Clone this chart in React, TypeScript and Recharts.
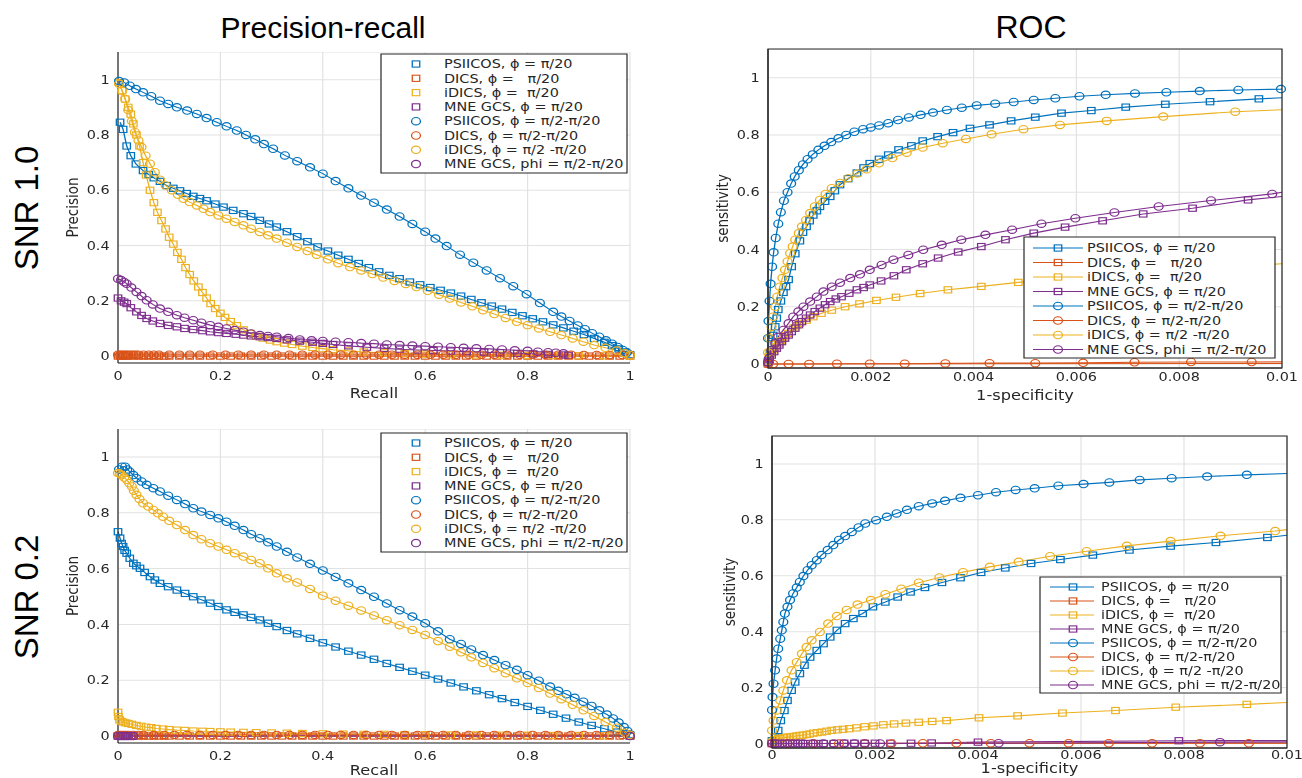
import React from 'react';
import { LineChart, Line, XAxis, YAxis, CartesianGrid } from 'recharts';

type Pt = [number, number];

// ---- Precision-recall, SNR 1.0 ----
const pr1PsiSq: Pt[] = [[0.004,0.846],[0.01,0.82],[0.017,0.76],[0.025,0.725],[0.035,0.695],[0.049,0.671],[0.06,0.657],[0.07,0.645],[0.082,0.632],[0.095,0.617],[0.108,0.607],[0.121,0.598],[0.134,0.588],[0.147,0.578],[0.16,0.57],[0.173,0.562],[0.19,0.55],[0.206,0.539],[0.225,0.527],[0.245,0.515],[0.26,0.505],[0.277,0.491],[0.295,0.478],[0.31,0.467],[0.33,0.45],[0.35,0.432],[0.37,0.414],[0.39,0.395],[0.41,0.38],[0.43,0.365],[0.45,0.35],[0.47,0.335],[0.49,0.32],[0.51,0.305],[0.53,0.292],[0.55,0.28],[0.57,0.268],[0.59,0.258],[0.61,0.248],[0.63,0.238],[0.65,0.228],[0.67,0.217],[0.69,0.205],[0.71,0.193],[0.73,0.181],[0.75,0.17],[0.77,0.158],[0.79,0.146],[0.81,0.135],[0.83,0.124],[0.85,0.113],[0.87,0.102],[0.89,0.09],[0.91,0.078],[0.93,0.064],[0.95,0.05],[0.965,0.038],[0.978,0.026],[0.99,0.015],[1,0.005]];
const pr1DicsSq: Pt[] = [[0,0],[0.005,0],[0.01,0],[0.015,0],[0.02,0],[0.03,0],[0.04,0],[0.05,0],[0.06,0],[0.07,0],[0.08,0],[0.09,0],[0.1,0],[0.12,0],[0.14,0],[0.16,0],[0.18,0],[0.2,0],[0.22,0],[0.24,0],[0.26,0],[0.28,0],[0.3,0],[0.32,0],[0.34,0],[0.36,0],[0.38,0],[0.4,0],[0.42,0],[0.44,0],[0.46,0],[0.48,0],[0.5,0],[0.52,0],[0.54,0],[0.56,0],[0.58,0],[0.6,0],[0.62,0],[0.64,0],[0.66,0],[0.68,0],[0.7,0],[0.72,0],[0.74,0],[0.76,0],[0.78,0],[0.8,0],[0.82,0],[0.84,0],[0.86,0],[0.88,0],[0.9,0],[0.92,0],[0.94,0],[0.96,0],[0.98,0],[1,0]];
const pr1IdicsSq: Pt[] = [[0.002,0.99],[0.008,0.96],[0.014,0.93],[0.02,0.9],[0.025,0.875],[0.03,0.84],[0.036,0.8],[0.042,0.76],[0.049,0.7],[0.055,0.655],[0.0625,0.6],[0.07,0.555],[0.077,0.52],[0.085,0.49],[0.093,0.46],[0.1,0.43],[0.108,0.405],[0.116,0.375],[0.124,0.35],[0.132,0.32],[0.14,0.295],[0.148,0.272],[0.157,0.25],[0.165,0.23],[0.173,0.21],[0.181,0.19],[0.19,0.172],[0.2,0.155],[0.209,0.14],[0.22,0.125],[0.232,0.11],[0.245,0.095],[0.258,0.082],[0.27,0.072],[0.283,0.065],[0.297,0.058],[0.31,0.052],[0.325,0.047],[0.34,0.042],[0.36,0.036],[0.38,0.031],[0.4,0.027],[0.42,0.023],[0.45,0.019],[0.48,0.015],[0.52,0.012],[0.56,0.009],[0.6,0.007],[0.65,0.005],[0.7,0.004],[0.75,0.003],[0.8,0.002],[0.85,0.002],[0.9,0.001],[0.95,0.001],[1,0]];
const pr1MneSq: Pt[] = [[0,0.21],[0.006,0.2],[0.012,0.195],[0.017,0.19],[0.025,0.175],[0.036,0.16],[0.046,0.147],[0.056,0.136],[0.068,0.127],[0.082,0.118],[0.098,0.111],[0.115,0.106],[0.13,0.1],[0.147,0.096],[0.165,0.092],[0.18,0.088],[0.196,0.085],[0.212,0.082],[0.23,0.079],[0.245,0.076],[0.26,0.073],[0.277,0.07],[0.293,0.067],[0.31,0.064],[0.33,0.059],[0.355,0.054],[0.38,0.05],[0.4,0.046],[0.42,0.042],[0.45,0.037],[0.486,0.032],[0.52,0.028],[0.55,0.025],[0.585,0.022],[0.616,0.02],[0.65,0.018],[0.681,0.016],[0.715,0.014],[0.746,0.012],[0.78,0.01],[0.811,0.008],[0.84,0.006],[0.87,0.004],[0.88,0.003]];
const pr1PsiCi: Pt[] = [[0.002,0.995],[0.012,0.99],[0.023,0.978],[0.035,0.966],[0.049,0.954],[0.065,0.94],[0.082,0.924],[0.098,0.912],[0.115,0.9],[0.135,0.888],[0.154,0.876],[0.173,0.861],[0.193,0.846],[0.212,0.831],[0.232,0.816],[0.25,0.8],[0.268,0.784],[0.285,0.767],[0.303,0.75],[0.326,0.726],[0.35,0.705],[0.375,0.683],[0.4,0.66],[0.425,0.633],[0.45,0.607],[0.475,0.581],[0.5,0.555],[0.525,0.53],[0.55,0.505],[0.575,0.478],[0.6,0.45],[0.62,0.425],[0.642,0.398],[0.668,0.367],[0.694,0.338],[0.72,0.31],[0.746,0.282],[0.772,0.253],[0.798,0.224],[0.824,0.192],[0.85,0.16],[0.866,0.143],[0.882,0.127],[0.898,0.111],[0.912,0.097],[0.926,0.083],[0.94,0.07],[0.953,0.057],[0.965,0.045],[0.976,0.033],[0.986,0.022],[0.994,0.013],[1,0.005]];
const pr1DicsCi: Pt[] = [[0,0.005],[0.004,0.005],[0.008,0.005],[0.012,0.005],[0.016,0.005],[0.02,0.005],[0.025,0.005],[0.03,0.005],[0.035,0.005],[0.04,0.005],[0.05,0.005],[0.06,0.005],[0.07,0.005],[0.08,0.005],[0.1,0.005],[0.12,0.005],[0.14,0.005],[0.16,0.005],[0.185,0.005],[0.21,0.005],[0.235,0.005],[0.26,0.005],[0.285,0.005],[0.31,0.005],[0.335,0.005],[0.36,0.005],[0.385,0.005],[0.41,0.005],[0.435,0.005],[0.46,0.005],[0.485,0.005],[0.51,0.005],[0.535,0.005],[0.56,0.005],[0.585,0.005],[0.61,0.005],[0.635,0.005],[0.66,0.005],[0.685,0.005],[0.71,0.005],[0.735,0.005],[0.76,0.005],[0.785,0.005],[0.81,0.005],[0.835,0.005],[0.86,0.005],[0.885,0.005],[0.91,0.004],[0.935,0.004],[0.96,0.004],[0.985,0.004],[1,0.004]];
const pr1IdicsCi: Pt[] = [[0.002,0.985],[0.008,0.96],[0.014,0.93],[0.02,0.89],[0.027,0.85],[0.033,0.81],[0.04,0.78],[0.046,0.756],[0.054,0.725],[0.0625,0.696],[0.072,0.665],[0.082,0.638],[0.093,0.617],[0.105,0.6],[0.117,0.584],[0.128,0.569],[0.14,0.557],[0.154,0.545],[0.167,0.533],[0.18,0.521],[0.196,0.509],[0.212,0.497],[0.228,0.485],[0.245,0.473],[0.26,0.461],[0.277,0.449],[0.293,0.437],[0.31,0.425],[0.33,0.41],[0.35,0.395],[0.37,0.38],[0.388,0.367],[0.41,0.35],[0.43,0.336],[0.453,0.322],[0.475,0.31],[0.497,0.297],[0.518,0.284],[0.54,0.272],[0.562,0.261],[0.583,0.25],[0.605,0.236],[0.627,0.222],[0.648,0.208],[0.67,0.194],[0.692,0.18],[0.713,0.166],[0.735,0.152],[0.757,0.138],[0.779,0.124],[0.8,0.112],[0.822,0.1],[0.844,0.088],[0.866,0.076],[0.888,0.064],[0.909,0.052],[0.93,0.04],[0.952,0.03],[0.974,0.02],[0.99,0.01],[1,0.004]];
const pr1MneCi: Pt[] = [[0,0.28],[0.006,0.275],[0.012,0.268],[0.017,0.262],[0.026,0.248],[0.036,0.232],[0.046,0.217],[0.056,0.202],[0.068,0.187],[0.082,0.172],[0.098,0.16],[0.115,0.148],[0.13,0.139],[0.147,0.13],[0.163,0.121],[0.18,0.112],[0.196,0.106],[0.212,0.1],[0.228,0.094],[0.245,0.088],[0.26,0.082],[0.277,0.076],[0.293,0.073],[0.31,0.07],[0.333,0.065],[0.355,0.06],[0.378,0.057],[0.4,0.055],[0.425,0.052],[0.45,0.05],[0.475,0.047],[0.5,0.045],[0.525,0.042],[0.55,0.04],[0.575,0.038],[0.6,0.036],[0.625,0.034],[0.65,0.032],[0.675,0.03],[0.7,0.028],[0.725,0.026],[0.75,0.024],[0.775,0.021],[0.8,0.019],[0.82,0.016],[0.84,0.014],[0.855,0.012],[0.87,0.01]];

// ---- Precision-recall, SNR 0.2 ----
const pr2PsiSq: Pt[] = [[0,0.732],[0.004,0.709],[0.007,0.69],[0.01,0.679],[0.013,0.665],[0.017,0.655],[0.023,0.637],[0.03,0.619],[0.036,0.61],[0.043,0.601],[0.052,0.586],[0.0625,0.571],[0.072,0.559],[0.082,0.547],[0.098,0.535],[0.115,0.523],[0.131,0.511],[0.147,0.499],[0.163,0.488],[0.18,0.476],[0.196,0.464],[0.212,0.452],[0.228,0.443],[0.245,0.434],[0.26,0.425],[0.277,0.416],[0.293,0.404],[0.31,0.392],[0.33,0.378],[0.35,0.366],[0.375,0.35],[0.4,0.334],[0.425,0.319],[0.45,0.304],[0.475,0.29],[0.5,0.275],[0.525,0.26],[0.55,0.246],[0.575,0.232],[0.6,0.218],[0.625,0.204],[0.65,0.19],[0.675,0.176],[0.7,0.162],[0.725,0.148],[0.75,0.134],[0.775,0.12],[0.8,0.106],[0.825,0.092],[0.85,0.078],[0.875,0.064],[0.9,0.05],[0.925,0.038],[0.95,0.026],[0.975,0.014],[1,0.004]];
const pr2DicsSq: Pt[] = [[0,0],[0.005,0],[0.01,0],[0.015,0],[0.02,0],[0.03,0],[0.04,0],[0.05,0],[0.06,0],[0.07,0],[0.08,0],[0.09,0],[0.1,0],[0.12,0],[0.14,0],[0.16,0],[0.18,0],[0.2,0],[0.22,0],[0.24,0],[0.26,0],[0.28,0],[0.3,0],[0.32,0],[0.34,0],[0.36,0],[0.38,0],[0.4,0],[0.42,0],[0.44,0],[0.46,0],[0.48,0],[0.5,0],[0.52,0],[0.54,0],[0.56,0],[0.58,0],[0.6,0],[0.62,0],[0.64,0],[0.66,0],[0.68,0],[0.7,0],[0.72,0],[0.74,0],[0.76,0],[0.78,0],[0.8,0],[0.82,0],[0.84,0],[0.86,0],[0.88,0],[0.9,0],[0.92,0],[0.94,0],[0.96,0],[0.98,0],[1,0]];
const pr2IdicsSq: Pt[] = [[0,0.085],[0.001,0.07],[0.003,0.058],[0.006,0.053],[0.01,0.05],[0.015,0.047],[0.02,0.045],[0.027,0.042],[0.036,0.038],[0.045,0.035],[0.055,0.032],[0.065,0.03],[0.075,0.027],[0.088,0.025],[0.1,0.023],[0.115,0.021],[0.13,0.02],[0.147,0.018],[0.165,0.017],[0.18,0.016],[0.2,0.015],[0.22,0.014],[0.245,0.013],[0.27,0.012],[0.3,0.011],[0.33,0.01],[0.36,0.009],[0.4,0.008],[0.44,0.007],[0.48,0.006],[0.52,0.006],[0.56,0.005],[0.6,0.005],[0.65,0.004],[0.7,0.004],[0.75,0.003],[0.8,0.003],[0.85,0.002],[0.9,0.002],[0.95,0.001],[1,0.001]];
const pr2MneSq: Pt[] = [[0,0],[0.005,0],[0.01,0],[0.015,0],[0.02,0],[0.03,0],[1,0]];
const pr2PsiCi: Pt[] = [[0.002,0.955],[0.008,0.965],[0.014,0.965],[0.018,0.955],[0.023,0.947],[0.03,0.935],[0.036,0.924],[0.046,0.912],[0.056,0.9],[0.069,0.888],[0.082,0.876],[0.098,0.861],[0.115,0.846],[0.131,0.831],[0.147,0.816],[0.163,0.804],[0.18,0.792],[0.196,0.78],[0.212,0.768],[0.228,0.753],[0.245,0.738],[0.26,0.723],[0.277,0.709],[0.293,0.694],[0.31,0.679],[0.33,0.66],[0.35,0.64],[0.375,0.617],[0.4,0.593],[0.425,0.57],[0.45,0.547],[0.475,0.523],[0.5,0.499],[0.525,0.475],[0.55,0.451],[0.575,0.428],[0.6,0.404],[0.625,0.375],[0.648,0.347],[0.67,0.33],[0.69,0.31],[0.713,0.29],[0.735,0.272],[0.757,0.254],[0.779,0.237],[0.8,0.218],[0.822,0.198],[0.844,0.177],[0.86,0.162],[0.876,0.15],[0.892,0.137],[0.909,0.123],[0.925,0.108],[0.94,0.092],[0.955,0.077],[0.967,0.063],[0.978,0.048],[0.988,0.032],[0.995,0.018],[1,0.005]];
const pr2DicsCi: Pt[] = [[0,0.004],[0.005,0.004],[0.01,0.004],[0.015,0.004],[0.02,0.004],[0.03,0.004],[0.04,0.004],[0.05,0.004],[0.07,0.004],[0.09,0.004],[0.11,0.004],[0.135,0.004],[0.16,0.004],[0.185,0.004],[0.21,0.004],[0.235,0.004],[0.26,0.004],[0.285,0.004],[0.31,0.004],[0.335,0.004],[0.36,0.004],[0.385,0.004],[0.41,0.004],[0.435,0.004],[0.46,0.004],[0.485,0.004],[0.51,0.004],[0.535,0.004],[0.56,0.004],[0.585,0.004],[0.61,0.004],[0.635,0.004],[0.66,0.004],[0.685,0.004],[0.71,0.004],[0.735,0.004],[0.76,0.004],[0.785,0.004],[0.81,0.004],[0.835,0.004],[0.86,0.004],[0.885,0.004],[0.91,0.004],[0.935,0.004],[0.96,0.004],[0.985,0.004],[1,0.004]];
const pr2IdicsCi: Pt[] = [[0,0.942],[0.004,0.94],[0.007,0.935],[0.012,0.926],[0.017,0.918],[0.022,0.906],[0.027,0.894],[0.031,0.879],[0.036,0.864],[0.042,0.849],[0.049,0.834],[0.059,0.822],[0.069,0.81],[0.078,0.798],[0.088,0.786],[0.1,0.771],[0.115,0.756],[0.131,0.738],[0.147,0.72],[0.163,0.705],[0.18,0.691],[0.196,0.679],[0.212,0.667],[0.228,0.655],[0.245,0.643],[0.26,0.631],[0.277,0.619],[0.293,0.601],[0.31,0.583],[0.33,0.565],[0.35,0.55],[0.375,0.527],[0.4,0.503],[0.425,0.485],[0.45,0.467],[0.475,0.45],[0.5,0.432],[0.525,0.415],[0.55,0.397],[0.575,0.38],[0.6,0.362],[0.625,0.34],[0.648,0.32],[0.67,0.3],[0.69,0.282],[0.713,0.262],[0.735,0.243],[0.757,0.225],[0.779,0.207],[0.8,0.19],[0.822,0.172],[0.844,0.152],[0.866,0.132],[0.888,0.112],[0.909,0.092],[0.93,0.072],[0.952,0.05],[0.974,0.03],[0.99,0.012],[1,0.004]];
const pr2MneCi: Pt[] = [[0,0],[0.004,0],[0.008,0],[0.012,0],[0.016,0],[0.02,0],[0.025,0],[0.03,0],[1,0]];

// ---- ROC, SNR 1.0 ----
const roc1PsiSq: Pt[] = [[0,0.01],[0.00004,0.04],[0.00007,0.07],[0.0001,0.1],[0.00014,0.13],[0.00017,0.16],[0.0002,0.19],[0.00025,0.22],[0.0003,0.25],[0.00035,0.27],[0.0004,0.295],[0.00046,0.34],[0.00053,0.385],[0.00062,0.43],[0.00068,0.46],[0.00075,0.48],[0.00081,0.5],[0.00088,0.52],[0.00095,0.535],[0.00101,0.55],[0.00111,0.568],[0.00121,0.585],[0.0013,0.605],[0.0014,0.626],[0.00156,0.647],[0.00173,0.667],[0.00186,0.685],[0.00198,0.7],[0.00216,0.715],[0.00234,0.73],[0.00254,0.748],[0.00279,0.762],[0.00301,0.779],[0.0033,0.794],[0.0036,0.808],[0.00393,0.823],[0.00431,0.835],[0.00473,0.849],[0.0052,0.862],[0.00571,0.876],[0.00629,0.885],[0.00696,0.897],[0.00773,0.907],[0.0086,0.916],[0.00955,0.926],[0.01,0.93]];
const roc1DicsSq: Pt[] = [[0,0],[0.01,0.002]];
const roc1IdicsSq: Pt[] = [[0,0.008],[0.00002,0.026],[0.00006,0.038],[0.0001,0.049],[0.00015,0.06],[0.0002,0.072],[0.00025,0.081],[0.0003,0.09],[0.00035,0.099],[0.0004,0.107],[0.00049,0.125],[0.00055,0.134],[0.00062,0.142],[0.00075,0.153],[0.00088,0.165],[0.00104,0.177],[0.00124,0.188],[0.0015,0.2],[0.00178,0.21],[0.00211,0.222],[0.00249,0.233],[0.00296,0.246],[0.0035,0.259],[0.00415,0.271],[0.00487,0.285],[0.0058,0.3],[0.0069,0.315],[0.0082,0.33],[0.0097,0.347],[0.01,0.35]];
const roc1MneSq: Pt[] = [[0,0.005],[0.00003,0.015],[0.00007,0.031],[0.00012,0.043],[0.00017,0.055],[0.00022,0.066],[0.00027,0.078],[0.00033,0.09],[0.0004,0.101],[0.00046,0.113],[0.00053,0.125],[0.0006,0.137],[0.00066,0.148],[0.00074,0.16],[0.00082,0.171],[0.00091,0.183],[0.00101,0.195],[0.00111,0.207],[0.00121,0.218],[0.00132,0.227],[0.00143,0.235],[0.00158,0.247],[0.00173,0.259],[0.00186,0.267],[0.00198,0.276],[0.0022,0.29],[0.00245,0.308],[0.00269,0.329],[0.00301,0.35],[0.00331,0.37],[0.0037,0.391],[0.00415,0.41],[0.00462,0.434],[0.00517,0.457],[0.00578,0.478],[0.00651,0.5],[0.0073,0.524],[0.00826,0.544],[0.00934,0.573],[0.01,0.585]];
const roc1PsiCi: Pt[] = [[0,0.09],[0.00001,0.15],[0.00003,0.22],[0.00005,0.28],[0.00008,0.34],[0.00011,0.39],[0.00015,0.44],[0.0002,0.49],[0.00025,0.53],[0.00031,0.57],[0.00038,0.6],[0.00045,0.63],[0.00052,0.655],[0.0006,0.677],[0.00068,0.697],[0.00077,0.715],[0.00087,0.732],[0.00098,0.748],[0.0011,0.762],[0.00123,0.775],[0.00137,0.788],[0.00152,0.8],[0.00168,0.811],[0.00185,0.82],[0.002,0.826],[0.00216,0.833],[0.00234,0.841],[0.00253,0.852],[0.00274,0.861],[0.00297,0.87],[0.00321,0.878],[0.00348,0.887],[0.00377,0.895],[0.00406,0.903],[0.00442,0.909],[0.00478,0.915],[0.00517,0.922],[0.00559,0.928],[0.00606,0.935],[0.00657,0.94],[0.00714,0.945],[0.00775,0.949],[0.0084,0.953],[0.00915,0.957],[0.00998,0.96],[0.01,0.961]];
const roc1DicsCi: Pt[] = [[0,0],[0.0001,0],[0.0004,0],[0.0008,0],[0.00134,0.001],[0.00198,0.001],[0.00266,0.001],[0.00345,0.002],[0.00431,0.003],[0.0052,0.003],[0.00613,0.004],[0.00713,0.006],[0.00823,0.007],[0.00941,0.007],[0.01,0.008]];
const roc1IdicsCi: Pt[] = [[0,0.04],[0.00003,0.09],[0.00007,0.13],[0.0001,0.165],[0.00014,0.2],[0.00018,0.235],[0.00023,0.27],[0.00028,0.3],[0.00033,0.329],[0.00038,0.358],[0.00043,0.387],[0.00048,0.41],[0.00053,0.434],[0.0006,0.457],[0.00066,0.48],[0.00074,0.503],[0.00082,0.527],[0.00091,0.55],[0.00101,0.573],[0.00112,0.594],[0.00124,0.614],[0.0014,0.632],[0.00156,0.649],[0.00174,0.665],[0.00192,0.68],[0.00216,0.701],[0.00242,0.719],[0.0027,0.738],[0.00301,0.756],[0.0034,0.771],[0.00385,0.786],[0.00435,0.802],[0.00497,0.82],[0.00568,0.835],[0.00659,0.849],[0.00769,0.864],[0.00909,0.881],[0.01,0.888]];
const roc1MneCi: Pt[] = [[0,0.005],[0.00002,0.02],[0.00007,0.049],[0.00014,0.072],[0.0002,0.095],[0.0003,0.119],[0.0004,0.142],[0.00049,0.165],[0.00059,0.183],[0.00069,0.2],[0.00082,0.218],[0.00095,0.235],[0.00108,0.253],[0.00124,0.27],[0.0014,0.284],[0.0016,0.3],[0.00179,0.313],[0.00198,0.329],[0.00221,0.346],[0.00244,0.364],[0.00273,0.381],[0.00302,0.399],[0.00338,0.416],[0.00376,0.434],[0.00423,0.451],[0.00475,0.469],[0.00532,0.49],[0.00598,0.509],[0.00674,0.529],[0.0076,0.55],[0.00862,0.571],[0.00981,0.594],[0.01,0.6]];

// ---- ROC, SNR 0.2 ----
const roc2PsiSq: Pt[] = [[0,0.01],[0.00006,0.023],[0.00012,0.047],[0.00017,0.082],[0.00024,0.118],[0.0003,0.154],[0.00038,0.19],[0.00045,0.22],[0.00054,0.25],[0.00063,0.28],[0.00074,0.309],[0.00087,0.333],[0.001,0.357],[0.00113,0.381],[0.00126,0.405],[0.00142,0.429],[0.00158,0.447],[0.00176,0.465],[0.00196,0.489],[0.0022,0.506],[0.00244,0.524],[0.00269,0.542],[0.00297,0.558],[0.0033,0.576],[0.00366,0.593],[0.00406,0.612],[0.00453,0.628],[0.00503,0.644],[0.0056,0.658],[0.00623,0.674],[0.00694,0.692],[0.00774,0.706],[0.00862,0.719],[0.00962,0.737],[0.01,0.745]];
const roc2DicsSq: Pt[] = [[0,0],[0.01,0.002]];
const roc2IdicsSq: Pt[] = [[0,0.005],[0.00005,0.014],[0.00012,0.018],[0.00016,0.019],[0.00023,0.021],[0.00029,0.023],[0.00035,0.024],[0.00041,0.025],[0.00047,0.027],[0.00054,0.029],[0.0006,0.03],[0.00067,0.032],[0.00073,0.034],[0.0008,0.037],[0.00088,0.039],[0.00097,0.041],[0.00106,0.044],[0.00116,0.047],[0.00127,0.049],[0.00138,0.051],[0.0015,0.053],[0.00164,0.056],[0.0018,0.06],[0.00197,0.063],[0.00216,0.067],[0.00237,0.07],[0.0026,0.073],[0.00285,0.076],[0.00311,0.079],[0.00339,0.082],[0.00402,0.092],[0.00477,0.099],[0.00564,0.109],[0.00667,0.118],[0.00784,0.13],[0.00922,0.14],[0.01,0.147]];
const roc2MneSq: Pt[] = [[0,0],[0.0001,0],[0.0002,0],[0.0003,0],[0.0004,0],[0.0005,0],[0.0006,0],[0.0007,0],[0.0008,0],[0.0009,0],[0.001,0],[0.0012,0],[0.0014,0.001],[0.0016,0.001],[0.0018,0.001],[0.002,0.001],[0.0023,0.001],[0.0027,0.001],[0.0031,0.002],[0.004,0.005],[0.0079,0.01],[0.01,0.011]];
const roc2PsiCi: Pt[] = [[0,0.12],[0.00001,0.166],[0.00003,0.214],[0.00006,0.262],[0.00009,0.304],[0.00012,0.339],[0.00016,0.375],[0.00019,0.405],[0.00022,0.435],[0.00025,0.465],[0.0003,0.489],[0.00035,0.513],[0.00041,0.537],[0.00048,0.558],[0.00054,0.578],[0.00061,0.599],[0.00069,0.62],[0.00077,0.638],[0.00087,0.656],[0.00096,0.674],[0.00108,0.692],[0.00119,0.71],[0.0013,0.728],[0.00142,0.742],[0.00155,0.757],[0.00168,0.773],[0.00181,0.787],[0.00202,0.799],[0.00223,0.811],[0.00242,0.823],[0.00262,0.836],[0.00285,0.849],[0.00311,0.859],[0.00336,0.868],[0.00366,0.879],[0.004,0.888],[0.00435,0.899],[0.00473,0.907],[0.0051,0.913],[0.00556,0.922],[0.00605,0.928],[0.00655,0.934],[0.00714,0.943],[0.00776,0.949],[0.00845,0.955],[0.00922,0.961],[0.01,0.966]];
const roc2DicsCi: Pt[] = [[0,0],[0.0003,0],[0.0008,0],[0.0013,0],[0.0018,0],[0.00232,0],[0.00293,0.001],[0.00358,0.001],[0.00425,0.001],[0.005,0.001],[0.00576,0.001],[0.00654,0.001],[0.00738,0.001],[0.00831,0.001],[0.00926,0.001],[0.01,0.001]];
const roc2IdicsCi: Pt[] = [[0,0.047],[0.00003,0.082],[0.00009,0.118],[0.00016,0.154],[0.00022,0.19],[0.00029,0.226],[0.00038,0.262],[0.00048,0.291],[0.00058,0.321],[0.00067,0.345],[0.00077,0.369],[0.00093,0.399],[0.00109,0.429],[0.00126,0.456],[0.00145,0.478],[0.00166,0.497],[0.00192,0.513],[0.0022,0.534],[0.00251,0.554],[0.00285,0.575],[0.00325,0.594],[0.00371,0.613],[0.00423,0.632],[0.00479,0.65],[0.0054,0.67],[0.00611,0.688],[0.00689,0.707],[0.00774,0.724],[0.00871,0.743],[0.00977,0.76],[0.01,0.765]];
const roc2MneCi: Pt[] = [[0,0],[0.00005,0],[0.0001,0],[0.0002,0],[0.0003,0],[0.0004,0],[0.0005,0],[0.0006,0],[0.0008,0],[0.001,0],[0.0012,0],[0.0014,0],[0.0016,0],[0.0018,0],[0.0021,0],[0.0044,0.001],[0.0087,0.005],[0.01,0.006]];

const legendNames = [
  'PSIICOS, ϕ = π/20',
  'DICS, ϕ =   π/20',
  'iDICS, ϕ =  π/20',
  'MNE GCS, ϕ = π/20',
  'PSIICOS, ϕ = π/2-π/20',
  'DICS, ϕ = π/2-π/20',
  'iDICS, ϕ = π/2 -π/20',
  'MNE GCS, phi = π/2-π/20',
];

const prTicks = [0, 0.2, 0.4, 0.6, 0.8, 1];
const rocTicks = [0, 0.002, 0.004, 0.006, 0.008, 0.01];
const yTicks = [0, 0.2, 0.4, 0.6, 0.8, 1];

const BLUE = '#0072BD';
const ORANGE = '#D95319';
const YELLOW = '#EDB120';
const PURPLE = '#7E2F8E';
const AX = '#262626';
const GRID = '#e2e2e2';
const FONT = "'DejaVu Sans', sans-serif";

const seriesStyle = [
  { color: BLUE, shape: 'square' },
  { color: ORANGE, shape: 'square' },
  { color: YELLOW, shape: 'square' },
  { color: PURPLE, shape: 'square' },
  { color: BLUE, shape: 'circle' },
  { color: ORANGE, shape: 'circle' },
  { color: YELLOW, shape: 'circle' },
  { color: PURPLE, shape: 'circle' },
];

// the figure is horizontally stretched, so each panel is drawn narrow and scaled
const K = 1.2;
const Y_W = 50;
const RIGHT = 22;
const X_H = 45;

interface LegendBox {
  x: number; y: number; w: number; h: number;
  rowTop: number; rowGap: number; markerX: number; textX: number;
  line?: [number, number];
}

interface PanelCfg {
  left: number; top: number; plotW: number; plotH: number;
  xDomain: [number, number]; yDomain: [number, number];
  xTicks: number[]; xTickGap: number;
  xLabel: string; yLabel: string; xLabelDy: number; yLabelX: number;
  series: Pt[][];
  markerLimit: number;
  box: boolean;
  legend: LegendBox;
}

const fmt = (v: number) => String(v);

function Marker({ shape, color, cx, cy }: { shape: string; color: string; cx: number; cy: number }) {
  if (shape === 'square') {
    return <rect x={cx - 3.1} y={cy - 3.1} width={6.2} height={6.2} fill="none" stroke={color} strokeWidth={1.1} />;
  }
  return <circle cx={cx} cy={cy} r={3.7} fill="none" stroke={color} strokeWidth={1.1} />;
}

function Panel({ cfg }: { cfg: PanelCfg }) {
  const wrapLeft = cfg.left - K * Y_W;
  const pw = cfg.plotW / K;
  const W = Y_W + pw + RIGHT;
  const H = cfg.plotH + X_H;
  const lg = cfg.legend;
  const lx = (lg.x - wrapLeft) / K;
  const ly = lg.y - cfg.top;

  return (
    <div
      style={{
        position: 'absolute', left: wrapLeft, top: cfg.top, width: W, height: H,
        transform: `scaleX(${K})`, transformOrigin: '0 0',
      }}
    >
      <LineChart width={W} height={H} margin={{ top: 0, right: RIGHT, bottom: 0, left: 0 }} style={{ fontFamily: FONT }}>
        <CartesianGrid stroke={GRID} strokeWidth={1} />
        <XAxis
          type="number" dataKey="x" domain={cfg.xDomain} ticks={cfg.xTicks} interval={0}
          height={X_H} tickLine={false} tickSize={cfg.xTickGap - 1} tickMargin={1}
          axisLine={{ stroke: AX }} tick={{ fill: AX, fontSize: 12, fontFamily: FONT }}
          tickFormatter={fmt}
        />
        <YAxis
          type="number" domain={cfg.yDomain} ticks={yTicks} interval={0} width={Y_W}
          tickLine={false} tickSize={5} tickMargin={2}
          axisLine={{ stroke: AX }} tick={{ fill: AX, fontSize: 12, fontFamily: FONT }}
          tickFormatter={fmt}
        />
        {cfg.series.map((pts, i) => {
          const st = seriesStyle[i];
          return (
            <Line
              key={i}
              data={pts.map(([x, y]) => ({ x, y }))}
              dataKey="y"
              type="linear"
              stroke={st.color}
              strokeWidth={1.1}
              isAnimationActive={false}
              activeDot={false}
              legendType="none"
              dot={(p: any) => {
                if (p.cx == null || p.payload.x >= cfg.markerLimit) return <g key={`m${i}-${p.index}`} />;
                return (
                  <g key={`m${i}-${p.index}`}>
                    <Marker shape={st.shape} color={st.color} cx={p.cx} cy={p.cy} />
                  </g>
                );
              }}
            />
          );
        })}
      </LineChart>
      <svg
        width={W} height={H}
        style={{ position: 'absolute', left: 0, top: 0, overflow: 'visible', pointerEvents: 'none', fontFamily: FONT }}
      >
        {cfg.box && (
          <rect x={Y_W} y={0} width={pw} height={cfg.plotH} fill="none" stroke={AX} strokeWidth={1} />
        )}
        <text
          x={cfg.yLabelX} y={cfg.plotH / 2} textAnchor="middle" fontSize={13.5} fill={AX}
          transform={`rotate(-90 ${cfg.yLabelX} ${cfg.plotH / 2})`}
        >
          {cfg.yLabel}
        </text>
        <text x={Y_W + pw / 2} y={cfg.plotH + cfg.xLabelDy} textAnchor="middle" fontSize={13.5} fill={AX}>
          {cfg.xLabel}
        </text>
        <g transform={`translate(${lx} ${ly})`}>
          <rect x={0} y={0} width={lg.w / K} height={lg.h} fill="#fff" stroke={AX} strokeWidth={1} />
          {legendNames.map((name, i) => {
            const st = seriesStyle[i];
            const ry = lg.rowTop + i * lg.rowGap;
            return (
              <g key={name}>
                {lg.line && (
                  <line x1={lg.line[0] / K} x2={lg.line[1] / K} y1={ry} y2={ry} stroke={st.color} strokeWidth={1.1} />
                )}
                <Marker shape={st.shape} color={st.color} cx={lg.markerX / K} cy={ry} />
                <text x={lg.textX / K} y={ry + 4.3} fontSize={12} fill={AX} style={{ whiteSpace: 'pre' }}>
                  {name}
                </text>
              </g>
            );
          })}
        </g>
      </svg>
    </div>
  );
}

const panels: PanelCfg[] = [
  {
    left: 118, top: 52, plotW: 512, plotH: 311,
    xDomain: [0, 1], yDomain: [-0.025, 1.1], xTicks: prTicks, xTickGap: 8,
    xLabel: 'Recall', yLabel: 'Precision', xLabelDy: 35, yLabelX: 17,
    series: [pr1PsiSq, pr1DicsSq, pr1IdicsSq, pr1MneSq, pr1PsiCi, pr1DicsCi, pr1IdicsCi, pr1MneCi],
    markerLimit: 2, box: false,
    legend: { x: 381, y: 54, w: 246, h: 119, rowTop: 10, rowGap: 14.3, markerX: 35, textX: 63 },
  },
  {
    left: 768, top: 49, plotW: 514, plotH: 319,
    xDomain: [0, 0.01], yDomain: [-0.014, 1.1], xTicks: rocTicks, xTickGap: 4.5,
    xLabel: '1-specificity', yLabel: 'sensitivity', xLabelDy: 32, yLabelX: 17,
    series: [roc1PsiSq, roc1DicsSq, roc1IdicsSq, roc1MneSq, roc1PsiCi, roc1DicsCi, roc1IdicsCi, roc1MneCi],
    markerLimit: 0.01, box: true,
    legend: { x: 1024, y: 237, w: 251, h: 121, rowTop: 11, rowGap: 14.5, markerX: 34, textX: 63, line: [9, 59] },
  },
  {
    left: 118, top: 429, plotW: 512, plotH: 314,
    xDomain: [0, 1], yDomain: [-0.025, 1.1], xTicks: prTicks, xTickGap: 8,
    xLabel: 'Recall', yLabel: 'Precision', xLabelDy: 32.5, yLabelX: 17,
    series: [pr2PsiSq, pr2DicsSq, pr2IdicsSq, pr2MneSq, pr2PsiCi, pr2DicsCi, pr2IdicsCi, pr2MneCi],
    markerLimit: 2, box: false,
    legend: { x: 381, y: 433, w: 246, h: 119, rowTop: 10, rowGap: 14.3, markerX: 35, textX: 63 },
  },
  {
    left: 772, top: 436, plotW: 515, plotH: 312,
    xDomain: [0, 0.01], yDomain: [-0.016, 1.1], xTicks: rocTicks, xTickGap: 2,
    xLabel: '1-specificity', yLabel: 'sensitivity', xLabelDy: 25.5, yLabelX: 19,
    series: [roc2PsiSq, roc2DicsSq, roc2IdicsSq, roc2MneSq, roc2PsiCi, roc2DicsCi, roc2IdicsCi, roc2MneCi],
    markerLimit: 0.01, box: true,
    legend: { x: 1040, y: 577, w: 241, h: 116, rowTop: 10, rowGap: 14, markerX: 33, textX: 61, line: [10, 54] },
  },
];

export default function App() {
  return (
    <div style={{ position: 'absolute', left: 0, top: 0, width: 1302, height: 778, background: '#fff', overflow: 'hidden' }}>
      <svg width={1302} height={778} style={{ position: 'absolute', left: 0, top: 0 }}>
        <g fontFamily="'Liberation Sans', Arial, sans-serif" fill="#000">
          <text x={323} y={38} fontSize={30} textAnchor="middle">Precision-recall</text>
          <text x={1031} y={38} fontSize={32} textAnchor="middle">ROC</text>
          <text x={38} y={208} fontSize={33} textAnchor="middle" transform="rotate(-90 38 208)">SNR 1.0</text>
          <text x={38} y={597} fontSize={33} textAnchor="middle" transform="rotate(-90 38 597)">SNR 0.2</text>
        </g>
      </svg>
      {panels.map((cfg, i) => (
        <Panel key={i} cfg={cfg} />
      ))}
    </div>
  );
}
